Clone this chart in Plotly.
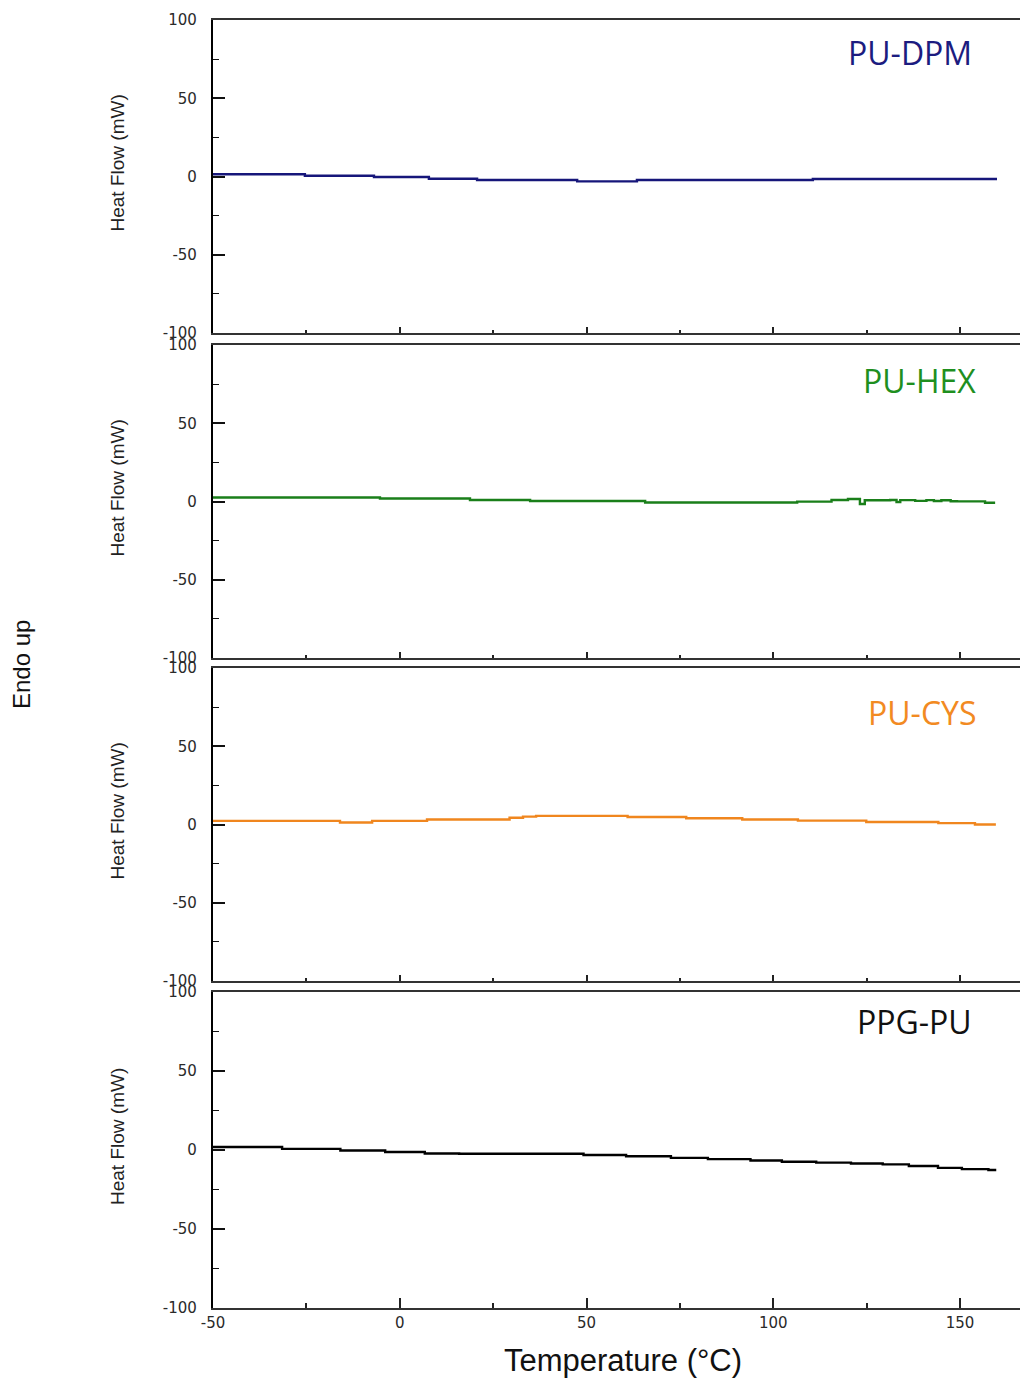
import plotly.graph_objects as go

# ---------------- data ----------------
DPM_T = [-50, -25.4, -6.9, 7.8, 20.7, 47.5, 63.5, 110.6, 159.9]
DPM_HF = [1.4, 0.5, -0.3, -1.4, -2.2, -3.1, -2.2, -1.6, -1.6]

HEX_T = [-50, -5.3, 18.8, 34.9, 65.7, 106.4, 115.6, 120.0, 123.2, 124.5, 131.3,
         133.0, 134.0, 138.0, 141.0, 143.0, 145.0, 147.5, 149.2, 156.7, 159.4]
HEX_HF = [2.6, 1.9, 1.0, 0.3, -0.6, -0.1, 1.0, 1.6, -1.6, 0.8, 1.0,
          -0.3, 0.9, 0.4, 0.9, 0.3, 0.8, 0.2, 0.1, -0.8, -0.8]

CYS_T = [-50, -16.0, -7.4, 7.3, 29.4, 33.0, 36.5, 61.0, 76.7, 91.7, 106.6,
         124.9, 144.2, 154.0, 159.6]
CYS_HF = [2.3, 1.3, 2.3, 3.2, 4.3, 5.0, 5.5, 4.8, 4.0, 3.2, 2.5,
          1.6, 0.9, 0.0, 0.0]

PPG_T = [-50, -31.5, -15.9, -3.9, 6.7, 15.9, 49.2, 60.6, 72.6, 82.5, 93.9,
         102.3, 111.5, 120.8, 129.3, 136.3, 144.1, 150.5, 157.6, 159.7]
PPG_HF = [1.9, 0.7, -0.3, -1.25, -2.25, -2.4, -3.2, -4.0, -5.0, -5.8, -6.6,
          -7.4, -8.0, -8.5, -9.1, -10.1, -11.3, -12.1, -12.7, -12.7]

SAMPLES = ["PU-DPM", "PU-HEX", "PU-CYS", "PPG-PU"]
LINE_COLORS = ["#16167a", "#1a7f1a", "#f0861e", "#000000"]
TEXT_COLORS = ["#1c1c80", "#1f8f1f", "#f28a22", "#111111"]

X_TICKS = [-50, 0, 50, 100, 150]
Y_TICKS = [-100, -50, 0, 50, 100]

# ---------------- layout geometry ----------------
# page body has an 8px margin, so the figure is drawn 8px smaller and
# all target pixel positions are shifted by that offset
OFF = 8
W, H = 1028 - OFF, 1380 - OFF


def px(xp):
    return (xp - OFF) / W


def py(yp):
    return 1 - (yp - OFF) / H


panels_px = [(20, 333), (345, 658), (668, 981), (992, 1308)]  # (top, bottom)
x_dom = [px(213), 1.0]

series = [(DPM_T, DPM_HF), (HEX_T, HEX_HF), (CYS_T, CYS_HF), (PPG_T, PPG_HF)]

fig = go.Figure()
tickfont = dict(family="DejaVu Sans", size=15, color="#2a2a2a")

for i, ((t, hf), col) in enumerate(zip(series, LINE_COLORS)):
    n = i + 1
    xa = "x" if n == 1 else f"x{n}"
    ya = "y" if n == 1 else f"y{n}"
    fig.add_trace(go.Scatter(x=t, y=hf, mode="lines", line=dict(color=col, width=2.4, shape="hv"),
                             xaxis=xa, yaxis=ya, showlegend=False, hoverinfo="skip"))
    top, bot = panels_px[i]
    ydom = [py(bot), py(top)]
    last = (i == 3)
    fig.layout[f"xaxis{'' if n == 1 else n}"] = dict(
        domain=x_dom, anchor=ya, range=[-50, 168.2], tickvals=X_TICKS,
        ticktext=[str(v) for v in X_TICKS], showticklabels=last,
        ticks="inside", ticklen=10 if last else 6, tickwidth=2, tickcolor="#222",
        minor=dict(ticks="inside", ticklen=5 if last else 3, tickwidth=1.5, dtick=25, tick0=-50, tickcolor="#222"),
        showline=True, linewidth=2, linecolor="#333", mirror=True,
        showgrid=False, zeroline=False, tickfont=tickfont, automargin=False,
        ticklabelstandoff=0, fixedrange=True,
    )
    fig.layout[f"yaxis{'' if n == 1 else n}"] = dict(
        domain=ydom, anchor=xa, range=[-100, 100], tickvals=Y_TICKS,
        ticktext=[str(v) for v in Y_TICKS],
        ticks="inside", ticklen=12, tickwidth=1.5, tickcolor="#111",
        minor=dict(ticks="inside", ticklen=6, tickwidth=1.2, dtick=25, tick0=-100, tickcolor="#111"),
        showline=True, linewidth=2.2, linecolor="#000",
        showgrid=False, zeroline=False, tickfont=tickfont, automargin=False,
        ticklabelstandoff=11, fixedrange=True,
    )
    # Heat flow axis title
    fig.add_annotation(text="Heat Flow (mW)", x=px(117), y=py((top + bot) / 2 - 13),
                       xref="paper", yref="paper", showarrow=False, textangle=-90,
                       font=dict(family="Liberation Sans", size=19, color="#222"),
                       xanchor="center", yanchor="middle")

label_pos = [(974, 53), (978, 380), (978, 712), (974, 1021)]
for name, tc, (lx, ly) in zip(SAMPLES, TEXT_COLORS, label_pos):
    fig.add_annotation(text=name, x=px(lx), y=py(ly), xref="paper", yref="paper",
                       showarrow=False, xanchor="right", yanchor="middle",
                       font=dict(family="Open Sans", size=32, color=tc))

fig.add_annotation(text="Endo up", x=px(22), y=py(665), xref="paper", yref="paper",
                   showarrow=False, textangle=-90, xanchor="center", yanchor="middle",
                   font=dict(family="Liberation Sans", size=24, color="#111"))
fig.add_annotation(text="Temperature (°C)", x=px(623), y=py(1360), xref="paper", yref="paper",
                   showarrow=False, xanchor="center", yanchor="middle",
                   font=dict(family="Liberation Sans", size=31, color="#111"))

fig.update_layout(width=W, height=H, margin=dict(l=0, r=0, t=0, b=0),
                  paper_bgcolor="white", plot_bgcolor="white")

fig.write_html("out.html")
